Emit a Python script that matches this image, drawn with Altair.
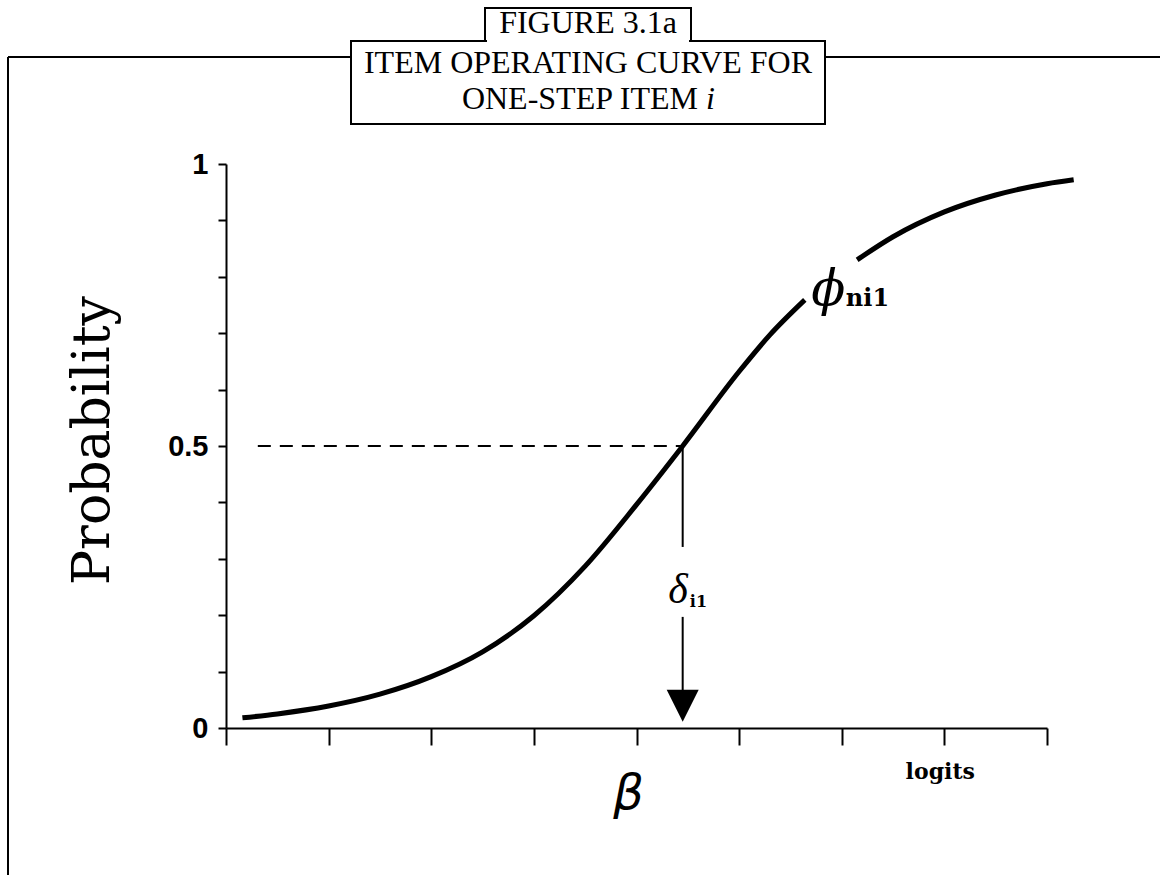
import altair as alt
import pandas as pd

# Item operating curve for a one-step item (ability on a logit scale, ticks 0..8)
lower_x = [0.16, 0.5, 1.0, 1.5, 2.0, 2.5, 3.0, 3.5, 4.0, 4.45, 5.0, 5.3, 5.64]
lower_p = [0.018, 0.025, 0.039, 0.060, 0.091, 0.135, 0.199, 0.287, 0.396, 0.500, 0.632, 0.697, 0.759]
upper_x = [6.15, 6.5, 7.0, 7.5, 8.0, 8.26]
upper_p = [0.830, 0.871, 0.915, 0.945, 0.965, 0.972]

# item step difficulty and the probability reached there
delta_x = 4.45
half_p = 0.5
dash_start_x = 0.31

# arrow pieces below the curve (gap left for the delta label)
arrow_top = [0.5, 0.197]
arrow_bottom = [0.321, 0.067]
arrow_tip_p = 0.011

x_ticks = [0, 1, 2, 3, 4, 5, 6, 7, 8]
y_ticks = [0.0, 0.1, 0.2, 0.3, 0.4, 0.5, 0.6, 0.7, 0.8, 0.9, 1.0]

title_lines = ["FIGURE 3.1a", "ITEM OPERATING CURVE FOR", "ONE-STEP ITEM"]

curve_df = pd.DataFrame({
    "x": lower_x + upper_x,
    "p": lower_p + upper_p,
    "seg": ["a"] * len(lower_x) + ["b"] * len(upper_x),
})
dash_df = pd.DataFrame({"x": [dash_start_x], "x2": [delta_x], "p": [half_p]})
arrow_df = pd.DataFrame({"x": [delta_x, delta_x], "p": arrow_top, "p2": arrow_bottom})
tip_df = pd.DataFrame({"x": [delta_x], "p": [arrow_tip_p]})
one = pd.DataFrame({"k": [0]})

x_enc = alt.X(
    "x:Q",
    scale=alt.Scale(domain=[0, 8], nice=False, zero=False),
    axis=alt.Axis(
        values=x_ticks, labels=False, tickSize=17, tickWidth=2, domainWidth=2,
        grid=False, title="β", titleFont="DejaVu Sans", titleFontStyle="italic",
        titleFontWeight="normal", titleFontSize=48, titleX=402, titleY=66,
        titleBaseline="middle", titleAlign="center",
    ),
)
y_enc = alt.Y(
    "p:Q",
    scale=alt.Scale(domain=[0, 1], nice=False, zero=False),
    axis=alt.Axis(
        values=y_ticks, tickSize=8, tickWidth=2, domainWidth=2, grid=False,
        labelExpr="datum.value == 0 ? '0' : (abs(datum.value - 0.5) < 0.001 ? '0.5' : (datum.value == 1 ? '1' : ''))",
        labelFont="Liberation Sans", labelFontWeight="bold", labelFontSize=29,
        labelPadding=10, labelColor="black",
        title="Probability", titleFont="DejaVu Serif", titleFontWeight="normal",
        titleFontSize=52, titleAngle=270, titleX=-134, titleY=276,
        titleAlign="center", titleBaseline="middle",
    ),
)

curve = alt.Chart(curve_df).mark_line(
    color="black", strokeWidth=5, interpolate="monotone", strokeCap="butt"
).encode(x=x_enc, y=y_enc, detail="seg:N")

dash = alt.Chart(dash_df).mark_rule(
    color="black", strokeWidth=2, strokeDash=[13, 9]
).encode(x=x_enc, x2="x2:Q", y="p:Q")

arrow = alt.Chart(arrow_df).mark_rule(color="black", strokeWidth=2).encode(
    x=x_enc, y=y_enc, y2="p2:Q"
)

tip = alt.Chart(tip_df).mark_point(
    shape="M-1,-2L1,-2L0,0Z", size=1024, filled=True, color="black", opacity=1
).encode(x=x_enc, y=y_enc)

def label(text, x, p, font, size, style="normal", weight="normal", align="center", baseline="middle"):
    df = pd.DataFrame({"x": [x], "p": [p], "t": [text]})
    return alt.Chart(df).mark_text(
        font=font, fontSize=size, fontStyle=style, fontWeight=weight,
        align=align, baseline=baseline, color="black",
    ).encode(x=x_enc, y=y_enc, text="t:N")

phi = label("ϕ", 5.87, 0.776, "DejaVu Serif", 50, style="italic")
phi_sub = label("ni1", 6.04, 0.748, "DejaVu Serif", 24, weight="bold", align="left", baseline="alphabetic")
delta = label("δ", 4.405, 0.245, "Liberation Serif", 42, style="italic")
delta_sub = label("i1", 4.52, 0.215, "DejaVu Serif", 16, weight="bold", align="left", baseline="alphabetic")
logits = label("logits", 6.96, -0.078, "DejaVu Serif", 22, weight="bold")

# figure frame (left and top edges) and the boxed heading
def hrule(x1, x2, y):
    return alt.Chart(one).mark_rule(color="black", strokeWidth=2).encode(
        x=alt.value(x1), x2=alt.value(x2), y=alt.value(y))

def vrule(x, y1, y2):
    return alt.Chart(one).mark_rule(color="black", strokeWidth=2).encode(
        x=alt.value(x), y=alt.value(y1), y2=alt.value(y2))

frame = alt.layer(
    vrule(-218, -107, 720),
    hrule(-218, 125, -107),
    hrule(599, 940, -107),
)

big_box = alt.Chart(one).mark_rect(fill="white", stroke="black", strokeWidth=2).encode(
    x=alt.value(125), x2=alt.value(599), y=alt.value(-123), y2=alt.value(-40))
small_box = alt.Chart(one).mark_rect(fill="white", stroke="black", strokeWidth=2).encode(
    x=alt.value(259), x2=alt.value(465), y=alt.value(-156), y2=alt.value(-123))
joint = alt.Chart(one).mark_rect(fill="white").encode(
    x=alt.value(261), x2=alt.value(463), y=alt.value(-125), y2=alt.value(-121))

def head_text(text, x, y, align="center", style="normal"):
    return alt.Chart(one).mark_text(
        font="Liberation Serif", fontSize=32, fontStyle=style, align=align,
        baseline="middle", color="black", text=text,
    ).encode(x=alt.value(x), y=alt.value(y))

heading = alt.layer(
    big_box, small_box, joint,
    head_text(title_lines[0], 362, -141),
    head_text(title_lines[1], 362, -101),
    head_text(title_lines[2], 472, -65, align="right"),
    head_text("i", 480, -65, align="left", style="italic"),
)

chart = alt.layer(
    frame, heading, dash, arrow, tip, curve, phi, phi_sub, delta, delta_sub, logits,
).properties(
    width=821, height=564,
    autosize=alt.AutoSizeParams(type="none"),
    padding={"left": 226, "top": 164, "right": 113, "bottom": 147},
    background="white",
).configure_view(stroke=None).configure_axis(
    domainColor="black", tickColor="black", titleColor="black"
)

chart.save("out.html", embed_options={"renderer": "svg", "actions": False})
